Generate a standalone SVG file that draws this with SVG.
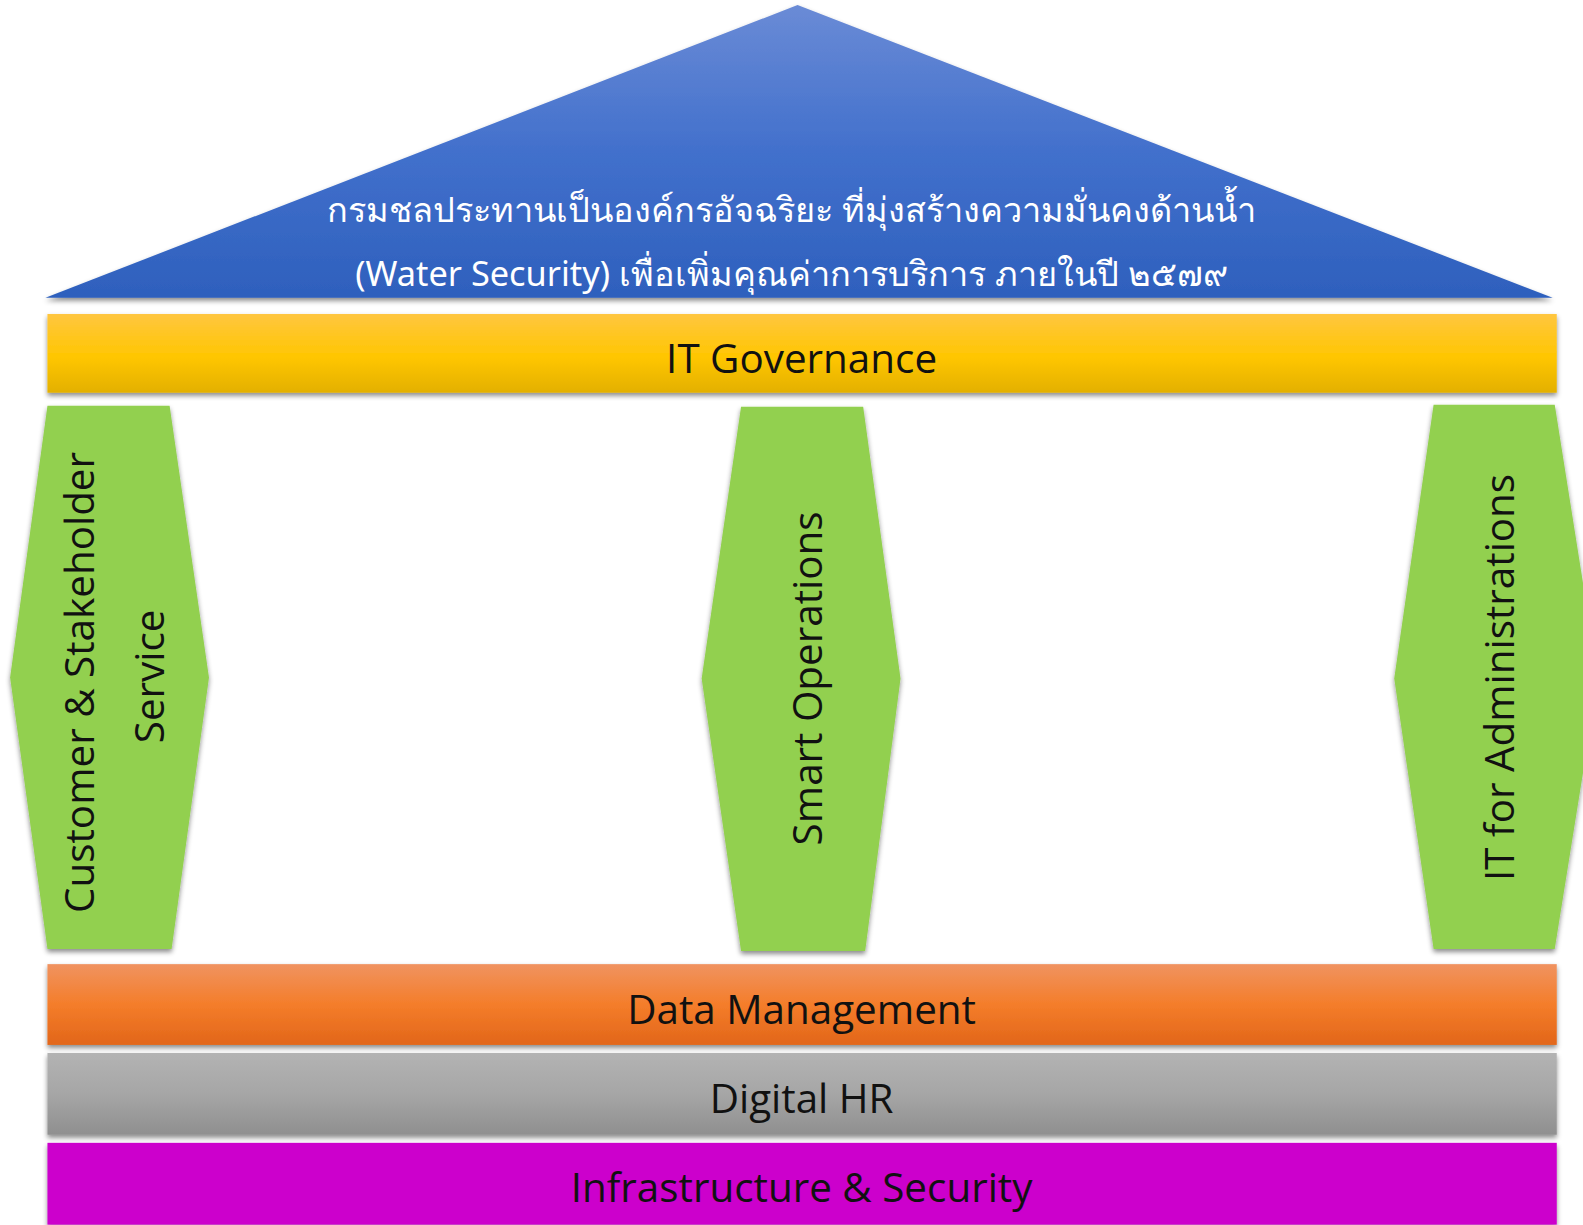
<svg xmlns="http://www.w3.org/2000/svg" width="1583" height="1225" viewBox="0 0 1583 1225">
<style>
.lbl{font-family:"Open Sans","Noto Sans","DejaVu Sans",sans-serif;font-size:40px;fill:#111;text-anchor:middle}
.th{font-family:"Noto Sans","DejaVu Sans",sans-serif;font-size:34px;fill:#fff;text-anchor:middle}
.hex{fill:#92d050}
</style>
<defs>
<filter id="sh" x="-5%" y="-10%" width="110%" height="125%">
<feDropShadow dx="0" dy="3" stdDeviation="2.5" flood-color="#000" flood-opacity="0.45"/>
</filter>
<linearGradient id="gBlue" x1="0" y1="0" x2="0" y2="1">
<stop offset="0" stop-color="#6a8bd6"/><stop offset="0.5" stop-color="#4270cc"/><stop offset="1" stop-color="#2e60bd"/>
</linearGradient>
<linearGradient id="gYel" x1="0" y1="0" x2="0" y2="1">
<stop offset="0" stop-color="#ffc640"/><stop offset="0.55" stop-color="#ffc600"/><stop offset="1" stop-color="#e3b000"/>
</linearGradient>
<linearGradient id="gOr" x1="0" y1="0" x2="0" y2="1">
<stop offset="0" stop-color="#f09360"/><stop offset="0.5" stop-color="#f47d2a"/><stop offset="1" stop-color="#e2661a"/>
</linearGradient>
<linearGradient id="gGr" x1="0" y1="0" x2="0" y2="1">
<stop offset="0" stop-color="#b3b3b3"/><stop offset="0.5" stop-color="#a6a6a6"/><stop offset="1" stop-color="#8f8f8f"/>
</linearGradient>
</defs>
<rect width="1583" height="1225" fill="#fff"/>
<g transform="scale(1.00957)">
<g id="roof">
<polygon points="790,5 1538,295 45,295" fill="url(#gBlue)" filter="url(#sh)"/>
<text class="th" x="784" y="220">กรมชลประทานเป็นองค์กรอัจฉริยะ ที่มุ่งสร้างความมั่นคงด้านน้ำ</text>
<text class="th" x="784" y="283">(Water Security) เพื่อเพิ่มคุณค่าการบริการ ภายในปี ๒๕๗๙</text>
</g>
<g id="it-governance">
<rect x="47" y="311" width="1495" height="78" fill="url(#gYel)" filter="url(#sh)"/>
<text class="lbl" x="794" y="369">IT Governance</text>
</g>
<g id="pillar-customer">
<polygon class="hex" points="47,402 168,402 207,671 170,940 47,940 10,671" filter="url(#sh)"/>
<text class="lbl" transform="translate(93,676) rotate(-90)">Customer &amp; Stakeholder</text>
<text class="lbl" transform="translate(162,670) rotate(-90)">Service</text>
</g>
<g id="pillar-smart">
<polygon class="hex" points="734,403 855,403 892,672 857,942 734,942 695,672" filter="url(#sh)"/>
<text class="lbl" transform="translate(814,672) rotate(-90)">Smart Operations</text>
</g>
<g id="pillar-admin">
<polygon class="hex" points="1420,401 1540,401 1583,672 1540,940 1420,940 1381,672" filter="url(#sh)"/>
<text class="lbl" transform="translate(1500,671) rotate(-90)">IT for Administrations</text>
</g>
<g id="data-management">
<rect x="47" y="955" width="1495" height="80" fill="url(#gOr)" filter="url(#sh)"/>
<text class="lbl" x="794" y="1014">Data Management</text>
</g>
<g id="digital-hr">
<rect x="47" y="1043" width="1495" height="81" fill="url(#gGr)" filter="url(#sh)"/>
<text class="lbl" x="794" y="1102">Digital HR</text>
</g>
<g id="infrastructure">
<rect x="47" y="1132" width="1495" height="81" fill="#cc00cc" filter="url(#sh)"/>
<text class="lbl" x="794" y="1191">Infrastructure &amp; Security</text>
</g>
<g id="connectors"/>
</g>
</svg>
